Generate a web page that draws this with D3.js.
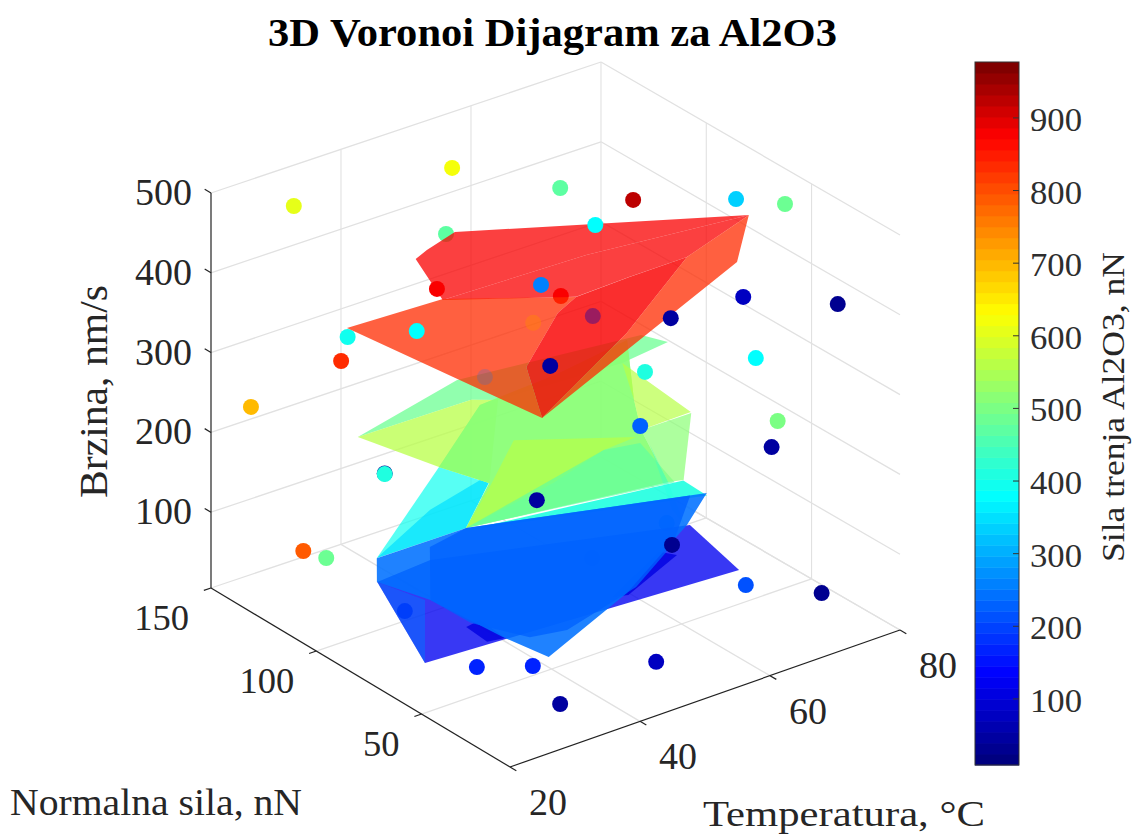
<!DOCTYPE html>
<html><head><meta charset="utf-8">
<script src="https://cdn.jsdelivr.net/npm/d3@7"></script>
<style>html,body{margin:0;background:#fff}text{font-family:"Liberation Serif",serif}</style></head>
<body><svg id="c" width="1133" height="834"></svg>
<script>
// ---- Axis ticks ----
const tempTicks = [20, 40, 60, 80];
const normalTicks = [50, 100, 150];
const speedTicks = [100, 200, 300, 400, 500];
const forceTicks = [100, 200, 300, 400, 500, 600, 700, 800, 900];
const tempDomain = [20, 80];
const normalDomain = [8, 150];
const speedDomain = [5, 500];
const forceDomain = [9, 977];
// jet colormap stops
const jetStops = ["#000080", "#0000ff", "#00ffff", "#ffff00", "#ff0000", "#800000"];
const jetPositions = [0, 0.125, 0.38, 0.645, 0.9, 1];

// ---- Scatter points: [temperature, normal force, speed, friction force] ----
const dotsBack = [
 [26.0,129.2,500,610],[47.8,121.3,500,615],[55.0,92.2,500,470],[60.1,73.3,500,930],[70.2,55.6,500,327],[74.1,44.4,500,490],
 [36.3,88.7,500,470],[39.5,102.9,400,880],[50.4,77.7,400,880],[67.9,45.1,400,70],[75.8,24.6,400,30],[36.0,134.5,300,395],
 [31.4,123.4,300,840],[72.2,52.4,300,375],[25.5,148.0,220,702],[63.9,16.4,300,505],
 [72.2,44.9,200,40],[30.3,99.3,200,30],[30.2,99.0,200,415],[22.7,114.5,100,786],[23.8,107.0,100,485],[62.7,65.4,100,290],
 [49.7,60.7,100,260],[22.8,66.6,100,190],[60.1,19.8,100,220],[78.6,40.9,5,35],[20.7,25.9,100,175],[26.3,16.6,100,170],
 [51.3,35.2,5,75],[35.1,30.8,5,45]
];
const dotsMid = [[59.2,64.9,300,415],[63.0,78.9,200,222],[53.9,99.9,100,40],[59.6,53.3,100,30]];
const dotsVeiled = [[43.3,68.9,400,740],[50.2,61.9,400,60],[42.8,90.3,300,251]];
const dotVeilOpacity = [0.4, 0.38, 0.2];
const dotsFront = [[52.3,67.2,500,375],[50.3,86.8,400,253],[30.6,85.0,400,375],[57.4,47.1,400,40],[51.0,84.6,300,50]];

// ---- Voronoi slices, bottom to top: vertices [temperature, normal force, speed] ----
const sliceBlueFloor = [[30.1,102.2,60],[21.5,53.0,60],[67.2,44.9,60],[69.9,76.6,60],[38.9,104.2,60]];
const sliceFloorEdge = [[30.1,102.2,60],[21.5,53.0,60],[31.8,84.8,60]];
const sliceSliverA = [[62.5,68.3,60],[63.7,63.6,60],[52.4,51.8,60],[50.5,53.6,60]];
const sliceSliverB = [[31.4,64.0,60],[31.0,52.8,60],[33.4,51.6,60],[33.9,65.1,60]];
const sliceCyanA = [[40.6,105.3,170],[42.8,88.5,170],[33.2,69.7,170],[20.9,74.0,160]];
const sliceCyanB = [[42.5,91.6,170],[42.8,88.5,170],[33.2,69.7,170],[20.9,74.0,160],[32.7,85.1,170]];
const sliceMint = [[27.1,102.2,250],[46.2,114.0,250],[71.6,105.0,250],[73.0,96.6,250],[65.1,93.9,250],[46.9,96.7,250],[44.3,101.4,250]];
const sliceYellow = [[27.1,102.2,250],[44.3,101.4,250],[46.9,96.7,250],[32.4,56.1,250],[30.1,72.9,250]];
const sliceGreen = [[30.1,72.9,250],[44.3,97.3,250],[56.6,99.5,250],[69.4,104.9,250],[60.1,72.9,250],[55.8,56.3,250],[49.9,25.2,250],[22.8,37.5,250],[32.4,56.1,250]];
const sliceGreenUnder = [[30.1,72.9,250],[44.3,97.3,250],[56.6,99.5,250],[69.4,104.9,250],[60.1,72.9,250],[55.8,56.3,250],[49.9,25.2,250],[22.8,37.5,250],[32.4,56.1,250]];
const sliceLime = [[41.8,73.5,250],[54.2,53.7,250],[48.9,52.7,250],[38.6,44.9,250],[22.8,37.5,250],[32.2,54.8,250]];
const sliceMintBand = [[22.8,37.5,250],[48.9,52.7,250],[53.6,49.9,250],[50.5,23.9,250]];
const sliceRightGreen = [[55.8,56.3,250],[63.5,56.2,250],[51.7,23.4,250],[49.9,25.2,250]];
const sliceRightLime = [[60.1,72.9,250],[65.1,93.9,250],[63.6,56.7,250],[55.8,56.3,250]];
const sliceStripe = [[54.2,47.1,250],[49.9,25.2,250],[47.7,10.5,225],[45.7,10.3,250]];
const sliceTeal = [[38.5,85.9,127],[67.4,72.0,130],[67.6,61.4,127]];
const sliceBlueTop = [[26.1,90.1,120],[39.8,89.9,120],[68.9,65.5,120],[61.7,52.7,120],[44.7,28.7,120],[26.7,10.3,120],[25.5,28.4,120],[24.5,59.7,120],[22.2,78.0,120]];
const sliceBlueLens = [[33.1,86.5,120],[39.8,89.9,120],[66.9,67.2,120],[57.0,45.1,120],[46.6,30.2,120],[32.9,20.7,120],[28.1,23.6,120],[24.7,41.0,120],[24.5,59.7,120]];
const sliceRedBack = [[38.4,109.6,430],[41.0,112.3,430],[46.7,116.6,430],[78.1,73.8,430],[55.7,82.0,430],[34.3,84.1,430]];
const sliceRedMid = [[34.3,84.1,430],[55.7,82.0,430],[78.1,73.8,430],[65.1,63.2,430],[56.2,63.2,430],[47.8,62.4,430]];
const sliceOrangeFlat = [[24.3,98.7,400],[38.4,96.7,400],[51.7,74.5,400],[47.3,69.6,400],[35.4,47.8,400],[28.6,19.3,400]];
const sliceRedWedge = [[69.1,75.5,400],[60.2,75.4,400],[51.7,74.5,400],[47.3,69.6,400],[35.4,47.8,400],[28.6,19.3,400],[50.7,47.3,400]];
const sliceOrangeRight = [[78.7,75.8,425],[73.1,64.1,400],[28.6,19.3,400],[50.7,47.3,400],[69.1,75.5,400]];

const slices = [sliceBlueFloor, sliceFloorEdge, sliceSliverA, sliceSliverB, sliceCyanA, sliceCyanB, sliceMint, sliceYellow, sliceGreenUnder, sliceGreen,
  sliceLime, sliceMintBand, sliceRightGreen, sliceRightLime, sliceStripe, sliceTeal, sliceBlueTop, sliceBlueLens];
const sliceForces = [130, 248, 100, 100, 390, 350, 490, 555, 512, 512, 568, 473, 510, 555, 420, 410, 244, 229];
const sliceAlphas = [0.78, 0.5, 0.8, 0.8, 0.7, 0.7, 0.75, 0.75, 0.75, 0.75, 0.7, 0.65, 0.7, 0.7, 0.3, 0.9, 0.88, 0.8];
const redSlices = [sliceRedBack, sliceRedMid, sliceOrangeFlat, sliceRedWedge, sliceOrangeRight];
const redForces = [880, 880, 838, 872, 838];
const redAlphas = [0.75, 0.75, 0.75, 0.82, 0.75];

// ---- Scales ----
const svg = d3.select("#c");
const sT = d3.scaleLinear().domain(tempDomain).range([0, 1]);
const sN = d3.scaleLinear().domain(normalDomain).range([0, 1]);
const sV = d3.scaleLinear().domain(speedDomain).range([0, 395]);
const jetT = d3.scaleLinear().domain(jetPositions).range(jetStops).interpolate(d3.interpolateRgb);
const forceT = d3.scaleLinear().domain(forceDomain).range([0, 1]);
const jet = f => jetT(Math.floor(forceT(f) * 63.99) / 63);
const forceY = d3.scaleLinear().domain(forceDomain).range([765, 62]);

// 3D projection of the axes box
function proj(T, N, V) {
  const u = sT(T), v = sN(N);
  return [510 + 390 * u - 299 * v, 767 - 137 * u - 179 * v + 6 * u * v - sV(V)];
}
const line3 = (g, a, b, stroke, w) => {
  const p = proj(...a), q = proj(...b);
  g.append("line").attr("x1", p[0]).attr("y1", p[1]).attr("x2", q[0]).attr("y2", q[1])
    .attr("stroke", stroke).attr("stroke-width", w);
};
const [T0, T1] = tempDomain, [N0, N1] = normalDomain, [V0, V1] = speedDomain;

// grid
const grid = svg.append("g");
const gridCol = "#e1e1e1";
[...speedTicks].forEach(z => {
  line3(grid, [T0, N1, z], [T1, N1, z], gridCol, 1.3);
  line3(grid, [T1, N1, z], [T1, N0, z], gridCol, 1.3);
});
line3(grid, [T0, N1, V0], [T1, N1, V0], gridCol, 1.3);
line3(grid, [T1, N1, V0], [T1, N0, V0], gridCol, 1.3);
[40, 60, 80].forEach(t => {
  line3(grid, [t, N1, V0], [t, N1, V1], gridCol, 1.1);
  line3(grid, [t, N0, V0], [t, N1, V0], gridCol, 1.3);
});
[50, 100].forEach(n => {
  line3(grid, [T1, n, V0], [T1, n, V1], gridCol, 1.1);
  line3(grid, [T0, n, V0], [T1, n, V0], gridCol, 1.3);
});

// axes
const ax = svg.append("g");
const axc = "#222";
line3(ax, [T0, N1, V0], [T0, N1, V1], axc, 1.2);
line3(ax, [T0, N0, V0], [T0, N1, V0], axc, 1.2);
line3(ax, [T0, N0, V0], [T1, N0, V0], axc, 1.2);
speedTicks.forEach(z => line3(ax, [T0, N1, z], [T0, N1 + 3, z], axc, 1.2));
normalTicks.forEach(n => line3(ax, [T0, n, V0], [T0 - 1.1, n, V0], axc, 1.2));
tempTicks.forEach(t => line3(ax, [t, N0, V0], [t, N0 - 3, V0], axc, 1.2));

const tickStyle = sel => sel.attr("font-size", 38).attr("fill", "#262626");
speedTicks.forEach(z => {
  const p = proj(T0, N1, z);
  svg.append("text").attr("x", p[0] - 19).attr("y", p[1] + 12).attr("text-anchor", "end").text(z).call(tickStyle);
});
normalTicks.forEach(n => {
  const p = proj(T0, n, V0);
  svg.append("text").attr("x", p[0] - 22).attr("y", p[1] + 42).attr("text-anchor", "end").text(n).call(tickStyle).attr("font-size", 36.5);
});
tempTicks.forEach(t => {
  const p = proj(t, N0, V0);
  svg.append("text").attr("x", p[0] + 19).attr("y", p[1] + 48).text(t).call(tickStyle);
});

// marks
const dots = (data) => svg.append("g").selectAll("circle").data(data).join("circle")
  .attr("cx", d => proj(d[0], d[1], d[2])[0]).attr("cy", d => proj(d[0], d[1], d[2])[1])
  .attr("r", 8).attr("fill", d => jet(d[3]));
const polys = (data, forces, alphas) => svg.append("g").selectAll("polygon").data(data).join("polygon")
  .attr("points", d => d.map(v => proj(...v).join(",")).join(" "))
  .attr("fill", (d, i) => jet(forces[i])).attr("fill-opacity", (d, i) => alphas[i]);

dots(dotsBack);
polys(slices, sliceForces, sliceAlphas);
dots(dotsMid);
polys(redSlices, redForces, redAlphas);
dots(dotsVeiled).attr("fill-opacity", (d, i) => dotVeilOpacity[i]);
dots(dotsFront);

// colorbar
const cb = svg.append("g");
const levels = d3.range(64);
const bandH = (forceY(forceDomain[0]) - forceY(forceDomain[1])) / 64;
cb.selectAll("rect").data(levels).join("rect")
  .attr("x", 975).attr("width", 44)
  .attr("y", l => 765 - (l + 1) * bandH).attr("height", bandH + 0.5)
  .attr("fill", l => jetT(l / 63));
cb.append("rect").attr("x", 975).attr("y", 62).attr("width", 44).attr("height", 703)
  .attr("fill", "none").attr("stroke", "#333").attr("stroke-width", 1);
forceTicks.forEach(f => {
  cb.append("line").attr("x1", 1013).attr("x2", 1019).attr("y1", forceY(f)).attr("y2", forceY(f)).attr("stroke", "#333");
  cb.append("text").attr("x", 1030).attr("y", forceY(f) + 13).attr("font-size", 33).attr("fill", "#2e2e2e")
    .attr("textLength", 52).attr("lengthAdjust", "spacingAndGlyphs").text(f);
});

// titles
const stretched = (sel, len) => sel.attr("textLength", len).attr("lengthAdjust", "spacingAndGlyphs");
svg.append("text").attr("x", 268).attr("y", 46)
  .attr("font-size", 39).attr("font-weight", "bold").attr("fill", "#000").call(stretched, 569).text("3D Voronoi Dijagram za Al2O3");
svg.append("text").attr("transform", "translate(107,498) rotate(-90)")
  .attr("font-size", 39).attr("fill", "#262626").call(stretched, 213).text("Brzina, nm/s");
svg.append("text").attr("x", 10).attr("y", 815).attr("font-size", 38).attr("fill", "#262626").call(stretched, 292).text("Normalna sila, nN");
svg.append("text").attr("x", 703).attr("y", 826).attr("font-size", 36).attr("fill", "#262626").call(stretched, 282).text("Temperatura, °C");
svg.append("text").attr("transform", "translate(1124,562) rotate(-90)")
  .attr("font-size", 32).attr("fill", "#262626").call(stretched, 310).text("Sila trenja Al2O3, nN");
</script></body></html>
